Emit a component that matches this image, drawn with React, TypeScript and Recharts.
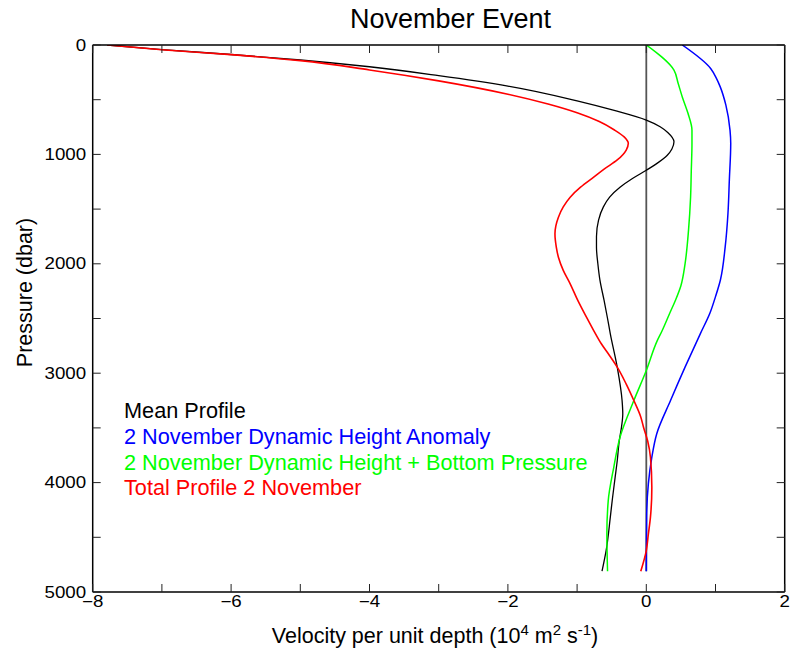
import React from "react";
import { LineChart, Line, XAxis, YAxis, Legend } from "recharts";

const FONT = "'Liberation Sans', Arial, Helvetica, sans-serif";

// pressure (dbar) and velocity per unit depth (1e4 m2 s-1)
const meanP = [0, 42, 87, 137, 199, 280, 375, 510, 600, 686, 747, 800, 885, 950, 1010, 1080, 1145, 1220, 1300, 1390, 1480, 1600, 1750, 1850, 2000, 2150, 2335, 2500, 2640, 2945, 3250, 3370, 3500, 3615, 3800, 3950, 4150, 4316, 4620, 4810];
const meanV = [-7.79, -7.0, -6.0, -5.0, -4.0, -3.0, -2.0, -1.0, -0.45, 0, 0.2, 0.31, 0.4, 0.37, 0.3, 0.16, 0, -0.2, -0.38, -0.53, -0.62, -0.69, -0.72, -0.72, -0.7, -0.67, -0.61, -0.56, -0.52, -0.42, -0.35, -0.34, -0.36, -0.39, -0.42, -0.45, -0.49, -0.52, -0.58, -0.64];

const anomP = [0, 215, 300, 385, 550, 780, 900, 1235, 1540, 1845, 2150, 2300, 2450, 2640, 2945, 3250, 3555, 3768, 4010, 4316, 4810];
const anomV = [0.52, 0.93, 1.01, 1.07, 1.15, 1.21, 1.22, 1.2, 1.18, 1.14, 1.07, 1.0, 0.92, 0.78, 0.56, 0.35, 0.15, 0.08, 0.03, 0.005, 0];

const bottomP = [0, 230, 350, 475, 620, 780, 900, 1150, 1390, 1695, 2000, 2200, 2335, 2450, 2610, 2700, 2975, 3250, 3585, 3860, 4165, 4470, 4810];
const bottomV = [0, 0.4, 0.46, 0.52, 0.6, 0.66, 0.66, 0.65, 0.64, 0.61, 0.56, 0.5, 0.42, 0.34, 0.23, 0.16, 0, -0.18, -0.38, -0.47, -0.55, -0.57, -0.56];

const totalP = [0, 43, 88, 143, 228, 328, 450, 540, 620, 700, 777, 840, 899, 960, 1051, 1130, 1208, 1300, 1391, 1480, 1574, 1726, 1850, 1940, 2060, 2183, 2335, 2470, 2610, 2731, 2840, 2945, 3100, 3250, 3400, 3494, 3620, 3768, 4042, 4316, 4470, 4621, 4810];
const totalV = [-7.79, -7.0, -6.0, -5.0, -4.0, -3.0, -2.0, -1.42, -1.0, -0.68, -0.46, -0.32, -0.26, -0.29, -0.42, -0.6, -0.76, -0.95, -1.1, -1.2, -1.27, -1.32, -1.3, -1.27, -1.2, -1.1, -0.99, -0.88, -0.76, -0.65, -0.53, -0.42, -0.29, -0.18, -0.08, -0.04, 0.02, 0.06, 0.08, 0.06, 0.03, 0, -0.08];

const zeroP = [0, 4810];
const zeroV = [0, 0];

const xTicks = [-8, -7, -6, -5, -4, -3, -2, -1, 0, 1, 2];
const yTicks = [0, 500, 1000, 1500, 2000, 2500, 3000, 3500, 4000, 4500, 5000];

const legendItems = [
  { label: "Mean Profile", color: "#000000" },
  { label: "2 November Dynamic Height Anomaly", color: "#0000ff" },
  { label: "2 November Dynamic Height + Bottom Pressure", color: "#00ff00" },
  { label: "Total Profile 2 November", color: "#ff0000" },
];

const zip = (p: number[], v: number[]) => p.map((pp, i) => ({ p: pp, v: v[i] }));

const series = [
  { key: "zero", data: zip(zeroP, zeroV), color: "#555555", width: 1.8, type: "linear" },
  { key: "mean", data: zip(meanP, meanV), color: "#000000", width: 1.3, type: "monotoneY" },
  { key: "anom", data: zip(anomP, anomV), color: "#0000ff", width: 1.5, type: "monotoneY" },
  { key: "bottom", data: zip(bottomP, bottomV), color: "#00ff00", width: 1.5, type: "monotoneY" },
  { key: "total", data: zip(totalP, totalV), color: "#ff0000", width: 1.6, type: "monotoneY" },
];

const fmt = (v: number) => (v < 0 ? `\u2212${-v}` : `${v}`);

function BottomTick({ x, y, payload }: any) {
  const v = payload.value;
  return (
    <g>
      <line x1={x} x2={x} y1={y} y2={y - 8} stroke="#222" strokeWidth={1} />
      {v % 2 === 0 && (
        <text transform={`translate(${x},${y + 15}) scale(1.17,1)`} textAnchor="middle" fontSize={16} fontFamily={FONT} fill="#000">
          {fmt(v)}
        </text>
      )}
    </g>
  );
}

function TopTick({ x, y }: any) {
  return <line x1={x} x2={x} y1={y} y2={y + 8} stroke="#222" strokeWidth={1} />;
}

function LeftTick({ x, y, payload }: any) {
  const v = payload.value;
  return (
    <g>
      <line x1={x} x2={x + 8} y1={y} y2={y} stroke="#222" strokeWidth={1} />
      {v % 1000 === 0 && (
        <text transform={`translate(${x - 6.5},${y + 5.5}) scale(1.17,1)`} textAnchor="end" fontSize={16} fontFamily={FONT} fill="#000">
          {v}
        </text>
      )}
    </g>
  );
}

function RightTick({ x, y }: any) {
  return <line x1={x} x2={x - 8} y1={y} y2={y} stroke="#222" strokeWidth={1} />;
}

const titleLabel = () => (
  <text x={350} y={28.3} fontSize={27} fontFamily={FONT} fill="#000">
    November Event
  </text>
);

const xLabel = () => (
  <text x={435} y={643} textAnchor="middle" fontSize={21.5} fontFamily={FONT} fill="#000">
    Velocity per unit depth (10
    <tspan fontSize={15} dy={-8}>4</tspan>
    <tspan dy={8}> m</tspan>
    <tspan fontSize={15} dy={-8}>2</tspan>
    <tspan dy={8}> s</tspan>
    <tspan fontSize={15} dy={-8}>-1</tspan>
    <tspan dy={8}>)</tspan>
  </text>
);

const yLabel = () => (
  <text transform="translate(31.5,292.5) rotate(-90)" textAnchor="middle" fontSize={21.5} fontFamily={FONT} fill="#000">
    Pressure (dbar)
  </text>
);

function LegendBox() {
  return (
    <div style={{ fontFamily: FONT, fontSize: 21.7, lineHeight: "25.8px", whiteSpace: "nowrap" }}>
      {legendItems.map((it) => (
        <div key={it.label} style={{ color: it.color }}>
          {it.label}
        </div>
      ))}
    </div>
  );
}

export default function App() {
  return (
    <div style={{ position: "absolute", left: 0, top: 0, width: 792, height: 650, background: "#fff" }}>
      <LineChart width={792} height={650} layout="vertical" margin={{ top: 44, right: 6.3, bottom: 0, left: 0 }}>
        <XAxis
          type="number"
          dataKey="v"
          domain={[-8, 2]}
          ticks={xTicks}
          interval={0}
          allowDataOverflow
          height={58}
          tickSize={0}
          tickMargin={0}
          tickLine={false}
          tick={<BottomTick />}
          axisLine={{ stroke: "#000", strokeWidth: 1.5 }}
          label={xLabel}
        />
        <XAxis
          xAxisId="top"
          orientation="top"
          type="number"
          domain={[-8, 2]}
          ticks={xTicks}
          interval={0}
          allowDataOverflow
          height={1}
          tickSize={0}
          tickMargin={0}
          tickLine={false}
          tick={<TopTick />}
          axisLine={{ stroke: "#000", strokeWidth: 1.5 }}
          label={titleLabel}
        />
        <YAxis
          type="number"
          dataKey="p"
          domain={[0, 5000]}
          ticks={yTicks}
          interval={0}
          allowDataOverflow
          width={92.7}
          tickSize={0}
          tickMargin={0}
          tickLine={false}
          tick={<LeftTick />}
          axisLine={{ stroke: "#000", strokeWidth: 1.5 }}
          label={yLabel}
        />
        <YAxis
          yAxisId="right"
          orientation="right"
          type="number"
          dataKey="p"
          domain={[0, 5000]}
          ticks={yTicks}
          interval={0}
          allowDataOverflow
          width={1}
          tickSize={0}
          tickMargin={0}
          tickLine={false}
          tick={<RightTick />}
          axisLine={{ stroke: "#000", strokeWidth: 1.5 }}
        />
        {series.map((s) => (
          <Line
            key={s.key}
            data={s.data}
            dataKey="v"
            type={s.type as any}
            stroke={s.color}
            strokeWidth={s.width}
            dot={false}
            activeDot={false}
            isAnimationActive={false}
          />
        ))}
        <Legend
          layout="vertical"
          align="center"
          verticalAlign="middle"
          content={<LegendBox />}
          wrapperStyle={{ position: "absolute", left: 124, top: 398, width: "auto", height: "auto" }}
        />
      </LineChart>
    </div>
  );
}
